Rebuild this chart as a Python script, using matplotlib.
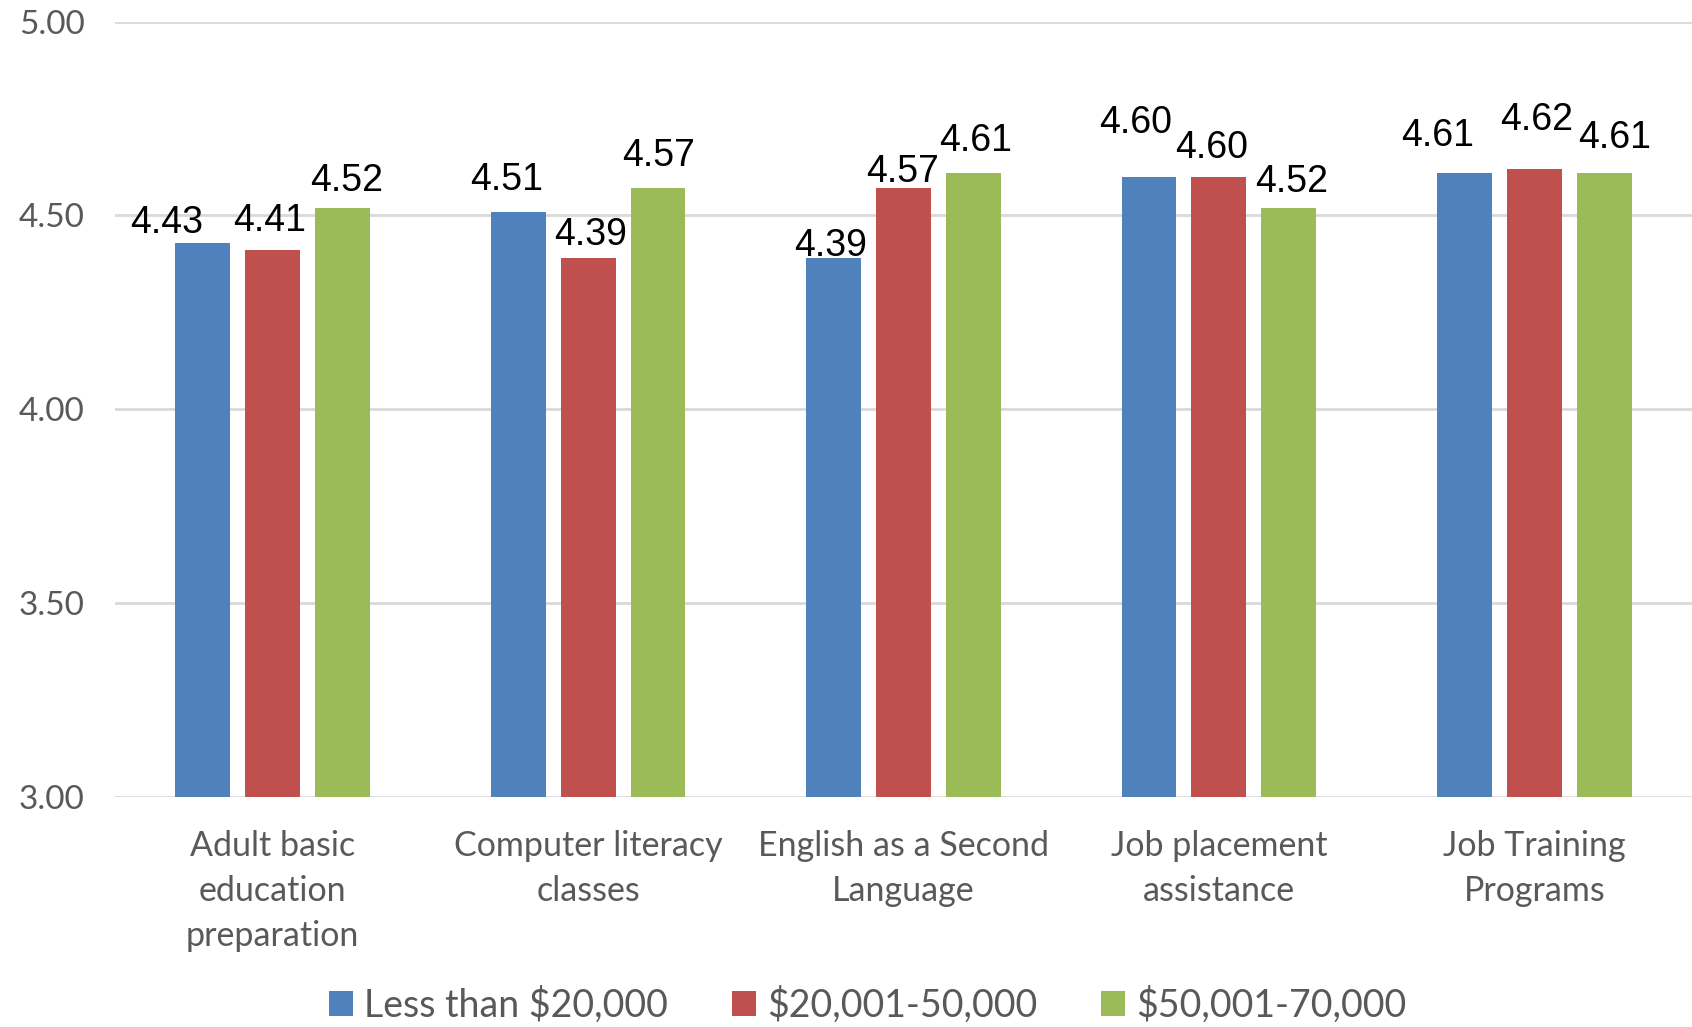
import numpy as np
import matplotlib.pyplot as plt

categories = ["Adult basic\neducation\npreparation", "Computer literacy\nclasses",
              "English as a Second\nLanguage", "Job placement\nassistance",
              "Job Training\nPrograms"]
series_names = ["Less than $20,000", "$20,001-50,000", "$50,001-70,000"]
less_20k = [4.43, 4.51, 4.39, 4.60, 4.61]
mid_50k = [4.41, 4.39, 4.57, 4.60, 4.62]
high_70k = [4.52, 4.57, 4.61, 4.52, 4.61]
yticks = [3.00, 3.50, 4.00, 4.50, 5.00]

colors = ["#4f81bd", "#c0504d", "#9bbb59"]

# label nudges (pixels) per series, per category, like Excel's placement
label_nudge = [
    [(-36, 10), (-12, 22), (-3, 2), (-13, 44), (-27, 27)],
    [(-3, 19), (2, 13), (-1, 6), (-7, 19), (2, 39)],
    [(4, 17), (1, 22), (2, 22), (3, 16), (10, 25)],
]

fig = plt.figure(figsize=(16.92, 10.27), dpi=100)
ax = fig.add_axes([0.068, 0.2243, 0.932, 0.7546])

x = np.arange(len(categories))
width = 0.174
step = 0.2215
for i, (vals, name) in enumerate(zip([less_20k, mid_50k, high_70k], series_names)):
    pos = x + (i - 1) * step
    ax.bar(pos, np.array(vals) - 3.0, width, bottom=3.0, color=colors[i],
           label=name, zorder=3)
    for j, (p, v) in enumerate(zip(pos, vals)):
        dx, dy = label_nudge[i][j]
        ax.annotate(f"{v:.2f}", (p, v), xytext=(dx, dy), textcoords="offset pixels",
                    ha="center", va="baseline", fontsize=27,
                    family="Liberation Sans", color="black", zorder=4)

ax.set_ylim(3.0, 5.0)
ax.set_xlim(-0.5, len(categories) - 0.5)
ax.set_yticks(yticks)
ax.set_yticklabels([f"{t:.2f}" for t in yticks], family="Lato", fontsize=24, color="#595959")
ax.set_xticks(x)
ax.set_xticklabels(categories, family="Lato", fontsize=24.5, color="#595959", linespacing=1.5)
ax.tick_params(axis="x", length=0, pad=24)
ax.tick_params(axis="y", length=0, pad=22)
ax.grid(axis="y", color="#d9d9d9", linewidth=2, zorder=0)
for s in ax.spines.values():
    s.set_visible(False)

leg = fig.legend(loc="center", bbox_to_anchor=(0.513, 0.021), ncol=3, frameon=False,
                 prop={"family": "Lato", "size": 27}, handlelength=0.64, handleheight=0.64,
                 handletextpad=0.3, columnspacing=1.7)
for t in leg.get_texts():
    t.set_color("#595959")

fig.savefig("out.png", dpi=100)
